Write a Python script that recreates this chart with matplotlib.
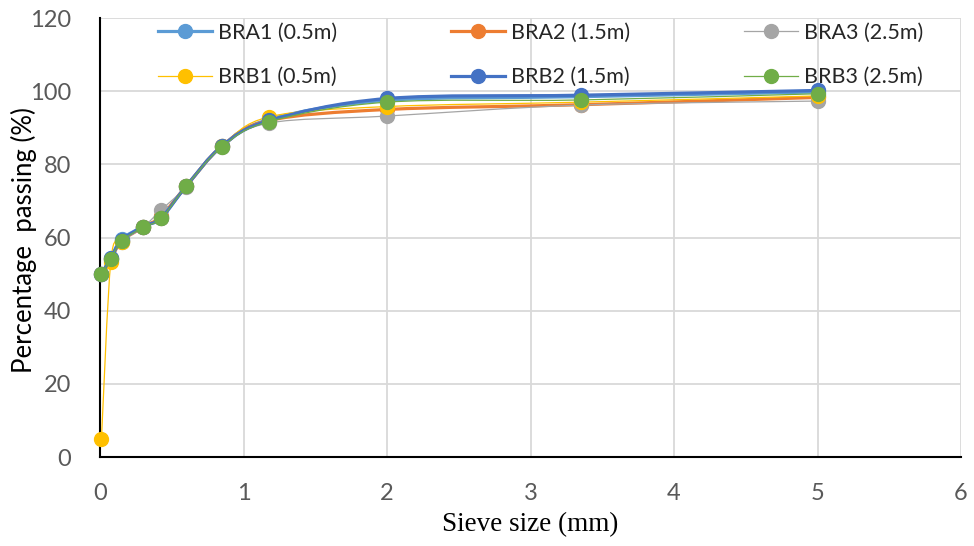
import numpy as np
import matplotlib
matplotlib.use("Agg")
import matplotlib.pyplot as plt
from matplotlib.path import Path
from matplotlib.patches import PathPatch
from matplotlib.lines import Line2D

# sieve sizes (mm)
sieve = [0.01, 0.075, 0.15, 0.3, 0.425, 0.6, 0.85, 1.18, 2.0, 3.35, 5.0]

# percentage passing per borehole sample
bra1 = [50.0, 54.5, 59.5, 63.0, 65.5, 74.0, 85.0, 92.3, 97.5, 98.5, 99.8]
bra2 = [50.0, 54.0, 59.0, 62.8, 65.8, 74.0, 85.0, 92.0, 95.0, 96.3, 98.3]
bra3 = [50.0, 54.0, 58.8, 62.8, 67.5, 73.8, 84.8, 91.3, 93.2, 96.2, 97.3]
brb1 = [5.0, 53.3, 58.8, 63.0, 65.3, 74.0, 85.0, 93.0, 95.8, 97.0, 98.7]
brb2 = [50.0, 54.3, 59.2, 63.0, 65.3, 74.0, 85.0, 92.0, 98.0, 98.9, 100.2]
brb3 = [50.0, 54.2, 59.0, 62.8, 65.2, 74.0, 84.8, 91.7, 97.0, 97.6, 99.3]

labels = ['BRA1 (0.5m)', 'BRA2 (1.5m)', 'BRA3 (2.5m)',
          'BRB1 (0.5m)', 'BRB2 (1.5m)', 'BRB3 (2.5m)']
series = [bra1, bra2, bra3, brb1, brb2, brb3]
colors = ['#5B9BD5', '#ED7D31', '#A5A5A5', '#FFC000', '#4472C4', '#70AD47']
widths = [2.3, 2.3, 0.9, 0.9, 2.3, 0.9]


def smooth_path(x, y):
    # Excel-style smoothed line: cubic Bezier through the data points
    pts = np.column_stack([x, y])
    n = len(pts)
    verts = [pts[0]]
    codes = [Path.MOVETO]
    for i in range(n - 1):
        p0 = pts[max(i - 1, 0)]
        p1 = pts[i]
        p2 = pts[i + 1]
        p3 = pts[min(i + 2, n - 1)]
        c1 = p1 + (p2 - p0) / 6.0
        c2 = p2 - (p3 - p1) / 6.0
        verts += [c1, c2, p2]
        codes += [Path.CURVE4] * 3
    return Path(verts, codes)


fig = plt.figure(figsize=(9.74, 5.46), dpi=100)
ax = fig.add_axes([0.1027, 0.163, 0.884, 0.804])

handles = []
for k, (vals, lab, col, lw) in enumerate(zip(series, labels, colors, widths)):
    patch = PathPatch(smooth_path(sieve, vals), facecolor='none', edgecolor=col,
                      linewidth=lw, zorder=3 + k * 0.1)
    ax.add_patch(patch)
    ax.plot(sieve, vals, linestyle='none', marker='o', markersize=10,
            color=col, zorder=3.05 + k * 0.1, clip_on=False)
    handles.append(Line2D([], [], color=col, linewidth=lw, marker='o',
                          markersize=10, label=lab))

ax.set_xlim(0, 6)
ax.set_ylim(0, 120)
ax.set_xticks(range(0, 7))
ax.set_yticks(range(0, 121, 20))
ax.grid(True, color='#D9D9D9', linewidth=1.3)
ax.set_axisbelow(True)
for s in ['top', 'right']:
    ax.spines[s].set_visible(False)
for s in ['left', 'bottom']:
    ax.spines[s].set_color('black')
    ax.spines[s].set_linewidth(1.5)
ax.tick_params(length=0, labelsize=17, labelcolor='#595959', pad=19)
ax.tick_params(axis='y', pad=21)
for t in ax.get_xticklabels() + ax.get_yticklabels():
    t.set_fontfamily('Lato')

ax.set_xlabel('Sieve size (mm)', fontfamily='Liberation Serif', fontsize=19.5, va='center')
ax.xaxis.set_label_coords(0.5, -0.155)
ax.set_ylabel('Percentage  passing (%)', fontfamily='Lato', fontsize=18.5,
              va='center', color='black')
ax.yaxis.set_label_coords(-0.088, 0.494)

order = [0, 3, 1, 4, 2, 5]
leg = ax.legend([handles[i] for i in order], [labels[i] for i in order],
                ncol=3, loc='upper left', bbox_to_anchor=(158 / 974, 1 - 23 / 546),
                bbox_transform=fig.transFigure, borderpad=0, borderaxespad=0,
                frameon=False, prop={'family': 'Lato', 'size': 15.5},
                handlelength=2.5, handletextpad=0.28, columnspacing=5.3,
                labelspacing=1.13)
for t in leg.get_texts():
    t.set_color('#262626')

fig.savefig('out.png', dpi=100)
